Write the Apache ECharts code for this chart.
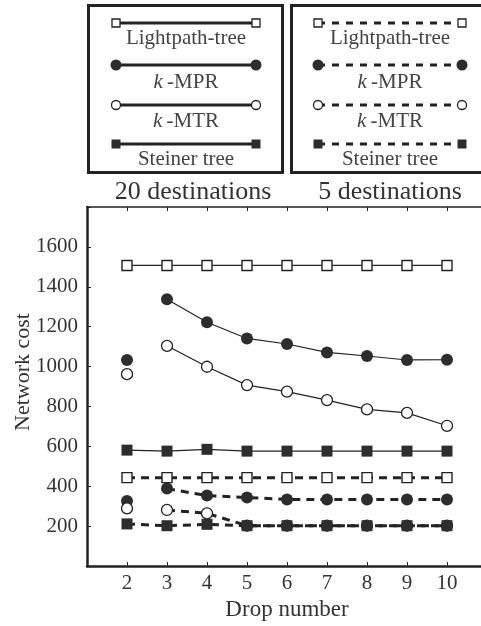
<!DOCTYPE html>
<html>
<head>
<meta charset="utf-8">
<script src="https://cdn.jsdelivr.net/npm/echarts@6/dist/echarts.min.js"></script>
<style>
html,body{margin:0;padding:0;background:#fff;overflow:hidden;}
#chart{width:520px;height:626px;}
</style>
</head>
<body>
<div id="chart"></div>
<script>
// ---- data ----
const drops = [2, 3, 4, 5, 6, 7, 8, 9, 10];
const yTicks = [200, 400, 600, 800, 1000, 1200, 1400, 1600];

// 20 destinations (solid lines)
const lightpath20 = [1507, 1507, 1507, 1507, 1507, 1507, 1507, 1507, 1507];
const mpr20 = [1033, 1337, 1222, 1141, 1113, 1071, 1053, 1033, 1034];
const mtr20 = [962, 1104, 999, 907, 874, 832, 785, 768, 703];
const steiner20 = [581, 576, 585, 576, 576, 576, 576, 576, 576];

// 5 destinations (dashed lines)
const lightpath5 = [443, 443, 443, 443, 443, 443, 443, 443, 443];
const mpr5 = [326, 388, 353, 343, 334, 334, 334, 334, 334];
const mtr5 = [289, 281, 264, 202, 202, 202, 202, 202, 202];
const steiner5 = [211, 202, 209, 202, 202, 202, 202, 202, 202];

const methodNames = ['Lightpath-tree', 'k-MPR', 'k-MTR', 'Steiner tree'];
const groupTitles = ['20 destinations', '5 destinations'];

// ---- styles ----
const FONT = "'Liberation Serif','Times New Roman',serif";
const INK = '#222';
const FILL = '#2d2d2d';
const TXT = '#333';

const markerStyles = {
  'Lightpath-tree': { symbol: 'rect', size: 10, item: { color: '#fff', borderColor: INK, borderWidth: 1.4, opacity: 1 } },
  'k-MPR': { symbol: 'circle', size: 12, item: { color: FILL, borderColor: FILL, borderWidth: 0, opacity: 1 } },
  'k-MTR': { symbol: 'circle', size: 11, item: { color: '#fff', borderColor: INK, borderWidth: 1.3, opacity: 1 } },
  'Steiner tree': { symbol: 'rect', size: 11, item: { color: FILL, borderColor: FILL, borderWidth: 0, opacity: 1 } }
};
const lineStyles = {
  solid: { color: INK, width: 1.2, type: 'solid' },
  dashed: { color: INK, width: 3, type: [8, 6] }
};

function pairs(values, from) {
  return drops.slice(from).map((d, i) => [d, values[from + i]]);
}

const series = [];
function addSeries(name, group, values, lineKind, detachFirst) {
  const m = markerStyles[name];
  const base = {
    symbol: m.symbol,
    symbolSize: m.size,
    itemStyle: m.item,
    animation: false,
    z: 2
  };
  if (detachFirst) {
    series.push(Object.assign({}, base, {
      name: name + ' (' + group + ')',
      type: 'scatter',
      data: pairs(values, 0).slice(0, 1)
    }));
  }
  series.push(Object.assign({}, base, {
    name: name + ' (' + group + ')',
    type: 'line',
    showAllSymbol: true,
    data: pairs(values, detachFirst ? 1 : 0),
    lineStyle: lineStyles[lineKind]
  }));
}

addSeries('Lightpath-tree', groupTitles[0], lightpath20, 'solid', false);
addSeries('k-MPR', groupTitles[0], mpr20, 'solid', true);
addSeries('k-MTR', groupTitles[0], mtr20, 'solid', true);
addSeries('Steiner tree', groupTitles[0], steiner20, 'solid', false);
addSeries('Lightpath-tree', groupTitles[1], lightpath5, 'dashed', false);
addSeries('k-MPR', groupTitles[1], mpr5, 'dashed', true);
addSeries('k-MTR', groupTitles[1], mtr5, 'dashed', true);
addSeries('Steiner tree', groupTitles[1], steiner5, 'dashed', false);

// ---- legend boxes drawn as graphics ----
const graphics = [];
const boxes = [
  { x0: 88.5, x1: 282.5, sx0: 116, sx1: 256, kind: 'solid' },
  { x0: 291.5, x1: 491.5, sx0: 318, sx1: 462, kind: 'dashed' }
];
const rowLineY = [23, 65, 105, 144];
const rowTextY = [38, 82, 121, 159];
const legendMarker = {
  'Lightpath-tree': { shape: 'rect', size: 8, fill: '#fff', stroke: INK, lw: 1.3 },
  'k-MPR': { shape: 'circle', size: 11, fill: FILL, stroke: FILL, lw: 0 },
  'k-MTR': { shape: 'circle', size: 9, fill: '#fff', stroke: INK, lw: 1.3 },
  'Steiner tree': { shape: 'rect', size: 9, fill: FILL, stroke: FILL, lw: 0 }
};
function legendLabel(name) {
  if (name.indexOf('k-') === 0) return '{i|k}\u2009' + name.slice(1);
  return name;
}
boxes.forEach((b, bi) => {
  graphics.push({
    type: 'rect', silent: true,
    shape: { x: b.x0, y: 5.5, width: b.x1 - b.x0, height: 167 },
    style: { fill: 'none', stroke: INK, lineWidth: 3 }
  });
  methodNames.forEach((name, ri) => {
    const y = rowLineY[ri];
    graphics.push({
      type: 'line', silent: true,
      shape: { x1: b.sx0, y1: y, x2: b.sx1, y2: y },
      style: { stroke: INK, lineWidth: 3, lineDash: b.kind === 'dashed' ? [7, 7] : null }
    });
    const lm = legendMarker[name];
    [b.sx0, b.sx1].forEach(cx => {
      if (lm.shape === 'rect') {
        graphics.push({
          type: 'rect', silent: true, z: 10,
          shape: { x: cx - lm.size / 2, y: y - lm.size / 2, width: lm.size, height: lm.size },
          style: { fill: lm.fill, stroke: lm.stroke, lineWidth: lm.lw }
        });
      } else {
        graphics.push({
          type: 'circle', silent: true, z: 10,
          shape: { cx: cx, cy: y, r: lm.size / 2 },
          style: { fill: lm.fill, stroke: lm.stroke, lineWidth: lm.lw }
        });
      }
    });
    graphics.push({
      type: 'text', silent: true, z: 10,
      x: (b.sx0 + b.sx1) / 2, y: rowTextY[ri],
      style: {
        text: legendLabel(name),
        fontFamily: FONT, fontSize: 21, fill: '#444',
        textAlign: 'center', textVerticalAlign: 'middle',
        rich: { i: { fontFamily: FONT, fontSize: 21, fontStyle: 'italic', fill: '#444' } }
      }
    });
  });
  graphics.push({
    type: 'text', silent: true,
    x: bi === 0 ? 193 : 390, y: 192,
    style: {
      text: groupTitles[bi], fontFamily: FONT, fontSize: 26, fill: TXT,
      textAlign: 'center', textVerticalAlign: 'middle'
    }
  });
});
graphics.push({
  type: 'text', silent: true,
  x: 23, y: 372, rotation: Math.PI / 2,
  style: {
    text: 'Network cost', fontFamily: FONT, fontSize: 22, fill: TXT,
    textAlign: 'center', textVerticalAlign: 'middle'
  }
});

const xLabelFmt = v => (drops.indexOf(v) >= 0 ? String(v) : '');
const yLabelFmt = v => (yTicks.indexOf(v) >= 0 ? String(v) : '');

const option = {
  backgroundColor: '#fff',
  animation: false,
  textStyle: { fontFamily: FONT },
  grid: { left: 87, width: 400, top: 207, bottom: 60, containLabel: false, outerBoundsMode: 'none' },
  xAxis: [
    {
      type: 'value', position: 'bottom', min: 1, max: 11, interval: 1,
      name: 'Drop number', nameLocation: 'middle', nameGap: 29,
      nameTextStyle: { fontFamily: FONT, fontSize: 23, color: TXT },
      axisLine: { show: true, onZero: false, lineStyle: { color: INK, width: 2.5 } },
      axisTick: { show: true, inside: true, length: 4, lineStyle: { color: INK, width: 1 } },
      axisLabel: { formatter: xLabelFmt, fontFamily: FONT, fontSize: 21, color: TXT, margin: 7 },
      splitLine: { show: false }
    },
    {
      type: 'value', position: 'top', min: 1, max: 11, interval: 1,
      axisLine: { show: true, onZero: false, lineStyle: { color: INK, width: 1.6 } },
      axisTick: { show: true, inside: true, length: 4, lineStyle: { color: INK, width: 1 } },
      axisLabel: { show: false },
      splitLine: { show: false }
    }
  ],
  yAxis: {
    type: 'value', min: 0, max: 1800, interval: 200,
    axisLine: { show: true, onZero: false, lineStyle: { color: INK, width: 2.5 } },
    axisTick: { show: true, inside: true, length: 4, lineStyle: { color: INK, width: 1 } },
    axisLabel: { formatter: yLabelFmt, fontFamily: FONT, fontSize: 21, color: TXT, margin: 9 },
    splitLine: { show: false }
  },
  graphic: graphics,
  series: series
};

const chart = echarts.init(document.getElementById('chart'), null, { renderer: 'canvas' });
chart.setOption(option);
</script>
</body>
</html>
